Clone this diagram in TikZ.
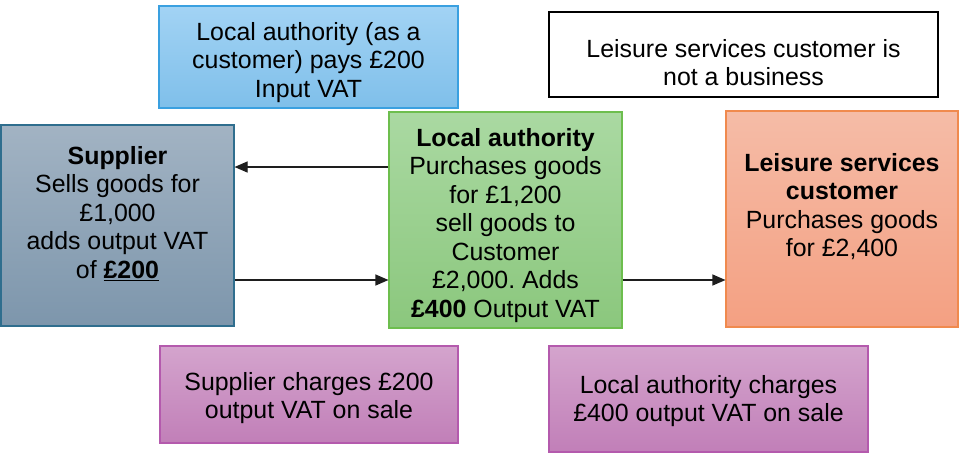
\documentclass[tikz,border=0pt]{standalone}
\usepackage{fontspec}
\setmainfont{Liberation Sans}
\usetikzlibrary{arrows.meta,calc}
\frenchspacing
\definecolor{supTop}{HTML}{A2B3C3}
\definecolor{supBot}{HTML}{7D96AC}
\definecolor{supLine}{HTML}{2F6E8E}
\definecolor{bluTop}{HTML}{A2D3F4}
\definecolor{bluBot}{HTML}{7FBFEA}
\definecolor{bluLine}{HTML}{3AA0E0}
\definecolor{grnTop}{HTML}{AAD9A2}
\definecolor{grnBot}{HTML}{8BC77D}
\definecolor{grnLine}{HTML}{6DBE4E}
\definecolor{orgTop}{HTML}{F5BCA7}
\definecolor{orgBot}{HTML}{F4A082}
\definecolor{orgLine}{HTML}{F08A4E}
\definecolor{purTop}{HTML}{D4A4CD}
\definecolor{purBot}{HTML}{C17FB8}
\definecolor{purLine}{HTML}{B45AAD}
\definecolor{arrCol}{HTML}{1E1E1E}
\tikzset{
  boxbase/.style={line width=1.1pt, inner sep=0pt, shading=axis, shading angle=0},
  grad/.style n args={3}{boxbase, draw=#1, top color=#2, bottom color=#3},
  txt/.style={font=\fontsize{24.9}{28.5}\selectfont\frenchspacing, align=center, inner sep=0pt, anchor=north, text=black},
  arr/.style={draw=arrCol, line width=1.1pt, -{Triangle[length=13pt,width=11pt]}}
}
\begin{document}
\begin{tikzpicture}[x=1pt,y=-1pt]
\useasboundingbox[fill=white] (0,0) rectangle (963,456);
% boxes
\node[grad={bluLine}{bluTop}{bluBot}, minimum width=299pt, minimum height=102pt] (blu) at (308.5,57) {};
\node[draw=black, line width=1.4pt, fill=white, minimum width=389pt, minimum height=85pt] (wht) at (743.5,54.5) {};
\node[grad={supLine}{supTop}{supBot}, minimum width=233pt, minimum height=201pt] (sup) at (117.5,225.5) {};
\node[grad={grnLine}{grnTop}{grnBot}, minimum width=233pt, minimum height=216pt] (grn) at (505.5,220) {};
\node[grad={orgLine}{orgTop}{orgBot}, minimum width=232pt, minimum height=216pt] (org) at (842,219) {};
\node[grad={purLine}{purTop}{purBot}, minimum width=298pt, minimum height=97pt] (pu1) at (309,394.5) {};
\node[grad={purLine}{purTop}{purBot}, minimum width=319pt, minimum height=106pt] (pu2) at (708.5,399) {};
% texts
\node[txt] (bluT) at (308.5,22) {Local authority (as a\\customer) pays £200\\Input VAT};
\node[txt] (whtT) at (743.5,39) {Leisure services customer is\\not a business};
\node[txt] (supT) at (117.5,146) {\textbf{Supplier}\\Sells goods for\\£1,000\\adds output VAT\\of \underline{\textbf{£200}}};
\node[txt] (grnT) at (505.5,128) {\textbf{Local authority}\\Purchases goods\\for £1,200\\sell goods to\\Customer\\£2,000. Adds\\\textbf{£400} Output VAT};
\node[txt] (orgT) at (842,153) {\textbf{Leisure services}\\\textbf{customer}\\Purchases goods\\for £2,400};
\node[txt] (pu1T) at (309,372) {Supplier charges £200\\output VAT on sale};
\node[txt] (pu2T) at (708.5,375) {Local authority charges\\£400 output VAT on sale};
% connectors
\draw[arr] ([yshift=53pt]grn.west) -- ([yshift=53pt]grn.west -| sup.east);
\draw[arr] ([yshift=-60pt]grn.west -| sup.east) -- ([yshift=-60pt]grn.west);
\draw[arr] ([yshift=-60pt]grn.east) -- ([yshift=-60pt]grn.east -| org.west);
\end{tikzpicture}
\end{document}
